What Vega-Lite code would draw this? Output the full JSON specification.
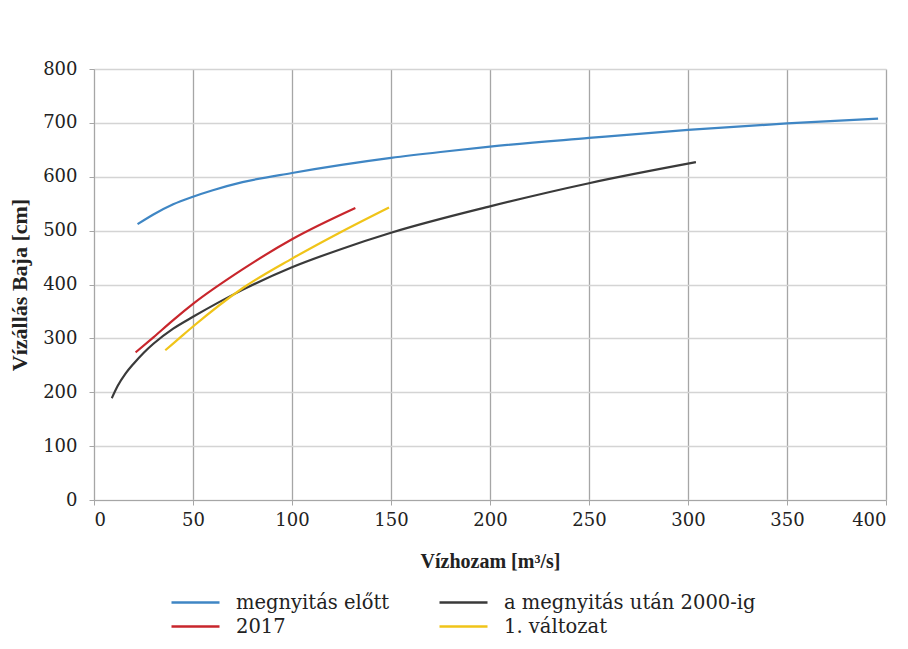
{
  "$schema": "https://vega.github.io/schema/vega-lite/v6.json",
  "autosize": "none",
  "padding": {"left": 94, "top": 69, "right": 22, "bottom": 149},
  "width": 792,
  "height": 431,
  "background": "white",
  "config": {
    "font": "DejaVu Serif",
    "view": {"stroke": null}
  },
  "data": {"values": [
    {"s": "megnyitás előtt", "q": 22, "h": 512},
    {"s": "megnyitás előtt", "q": 30, "h": 530},
    {"s": "megnyitás előtt", "q": 40, "h": 549},
    {"s": "megnyitás előtt", "q": 50, "h": 563},
    {"s": "megnyitás előtt", "q": 60, "h": 575},
    {"s": "megnyitás előtt", "q": 75, "h": 590},
    {"s": "megnyitás előtt", "q": 100, "h": 607},
    {"s": "megnyitás előtt", "q": 125, "h": 622},
    {"s": "megnyitás előtt", "q": 150, "h": 635},
    {"s": "megnyitás előtt", "q": 175, "h": 646},
    {"s": "megnyitás előtt", "q": 200, "h": 656},
    {"s": "megnyitás előtt", "q": 250, "h": 672},
    {"s": "megnyitás előtt", "q": 300, "h": 687},
    {"s": "megnyitás előtt", "q": 350, "h": 699},
    {"s": "megnyitás előtt", "q": 396, "h": 708},
    {"s": "a megnyitás után 2000-ig", "q": 9, "h": 189},
    {"s": "a megnyitás után 2000-ig", "q": 12, "h": 212},
    {"s": "a megnyitás után 2000-ig", "q": 16, "h": 235},
    {"s": "a megnyitás után 2000-ig", "q": 20, "h": 253},
    {"s": "a megnyitás után 2000-ig", "q": 25, "h": 273},
    {"s": "a megnyitás után 2000-ig", "q": 30, "h": 290},
    {"s": "a megnyitás után 2000-ig", "q": 40, "h": 318},
    {"s": "a megnyitás után 2000-ig", "q": 50, "h": 340},
    {"s": "a megnyitás után 2000-ig", "q": 75, "h": 390},
    {"s": "a megnyitás után 2000-ig", "q": 100, "h": 432},
    {"s": "a megnyitás után 2000-ig", "q": 125, "h": 466},
    {"s": "a megnyitás után 2000-ig", "q": 150, "h": 496},
    {"s": "a megnyitás után 2000-ig", "q": 200, "h": 545},
    {"s": "a megnyitás után 2000-ig", "q": 250, "h": 588},
    {"s": "a megnyitás után 2000-ig", "q": 304, "h": 627},
    {"s": "2017", "q": 21, "h": 274},
    {"s": "2017", "q": 30, "h": 302},
    {"s": "2017", "q": 40, "h": 334},
    {"s": "2017", "q": 50, "h": 364},
    {"s": "2017", "q": 75, "h": 428},
    {"s": "2017", "q": 100, "h": 484},
    {"s": "2017", "q": 132, "h": 542},
    {"s": "1. változat", "q": 36, "h": 278},
    {"s": "1. változat", "q": 43, "h": 300},
    {"s": "1. változat", "q": 50, "h": 322},
    {"s": "1. változat", "q": 75, "h": 393},
    {"s": "1. változat", "q": 100, "h": 448},
    {"s": "1. változat", "q": 125, "h": 498},
    {"s": "1. változat", "q": 149, "h": 543}
  ]},
  "mark": {"type": "line", "strokeWidth": 2.2, "interpolate": "monotone"},
  "encoding": {
    "x": {
      "field": "q", "type": "quantitative",
      "scale": {"domain": [0, 400], "nice": false},
      "axis": {
        "title": "Vízhozam [m³/s]", "values": [0, 50, 100, 150, 200, 250, 300, 350, 400],
        "titleFont": "Liberation Serif", "titleFontSize": 20, "titleFontWeight": "bold", "titleColor": "#222", "titlePadding": 22,
        "labelFont": "DejaVu Serif", "labelFontSize": 18, "labelColor": "#222", "labelPadding": 6,
        "gridColor": "#a6a6a6", "gridWidth": 1.3, "domainColor": "#a6a6a6", "tickColor": "#a6a6a6", "tickSize": 5
      }
    },
    "y": {
      "field": "h", "type": "quantitative",
      "scale": {"domain": [0, 800], "nice": false},
      "axis": {
        "title": "Vízállás Baja [cm]", "values": [0, 100, 200, 300, 400, 500, 600, 700, 800],
        "titleFont": "Liberation Serif", "titleFontSize": 22, "titleFontWeight": "bold", "titleColor": "#222", "titlePadding": 11,
        "labelFont": "DejaVu Serif", "labelFontSize": 18, "labelColor": "#222", "labelPadding": 12,
        "gridColor": "#d4d4d4", "gridWidth": 1.3, "domainColor": "#a6a6a6", "tickColor": "#a6a6a6", "tickSize": 5
      }
    },
    "color": {
      "field": "s", "type": "nominal",
      "scale": {
        "domain": ["megnyitás előtt", "a megnyitás után 2000-ig", "2017", "1. változat"],
        "range": ["#3f86c4", "#3a3a3a", "#c8262c", "#f0c419"]
      },
      "legend": {
        "title": null, "orient": "none", "legendX": 76, "legendY": 520,
        "direction": "horizontal", "columns": 2, "columnPadding": 44, "rowPadding": 1,
        "symbolType": "M-1,0L3,0", "symbolSize": 576, "symbolStrokeWidth": 2.5,
        "labelFont": "DejaVu Serif", "labelFontSize": 19.5, "labelColor": "#222", "labelLimit": 400, "labelOffset": 39
      }
    }
  }
}
